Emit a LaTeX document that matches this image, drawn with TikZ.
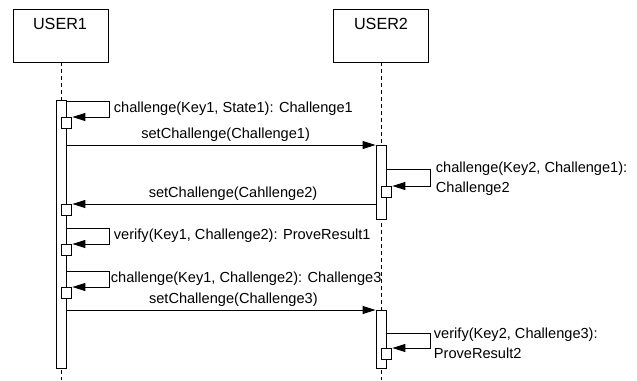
\documentclass[tikz,border=0pt]{standalone}
\usepackage{fontspec}
\setmainfont{Liberation Sans}
\usetikzlibrary{arrows.meta}

\begin{document}
\begin{tikzpicture}[x=0.02cm,y=-0.02cm,line width=0.5pt,
	objbox/.style={draw, minimum width=1.9cm, minimum height=1.06cm, inner sep=0pt},
	objname/.style={font=\fontsize{9.2}{11}\selectfont},
	actbar/.style={draw, fill=white, minimum width=0.2cm, inner sep=0pt, anchor=north},
	retbox/.style={draw, fill=white, minimum size=0.21cm, inner sep=0pt, anchor=north west},
	lifeline/.style={dash pattern=on 0.08cm off 0.06cm},
	msg/.style={-{Triangle[length=0.26cm,width=0.16cm]}},
	lbl/.style={font=\fontsize{8.3}{11.3}\selectfont, inner sep=2pt}]
	\useasboundingbox (0,0) rectangle (637,380);
	
	% Objects
	\node[objbox] (user1) at (61,35.5) {};
	\node[objbox] (user2) at (381,35.5) {};
	\node[objname] (user1name) at (60,24) {USER1};
	\node[objname] (user2name) at (381,24) {USER2};
	
	% Lifelines
	\coordinate (end1) at (61,380);
	\coordinate (end2) at (381,380);
	\draw[lifeline] (user1.south) -- (end1);
	\draw[lifeline] (user2.south) -- (end2);
	
	% Activation bars
	\node[actbar, minimum height=5.36cm] (bar1) at (61,100) {};
	\node[actbar, minimum height=1.48cm] (bar2) at (381,145) {};
	\node[actbar, minimum height=1.16cm] (bar3) at (381,310) {};
	
	% Return boxes
	\node[retbox] (ret1) at (61,117) {};
	\node[retbox] (ret2) at (61,204) {};
	\node[retbox] (ret3) at (61,244) {};
	\node[retbox] (ret4) at (61,287) {};
	\node[retbox] (ret5) at (381,186) {};
	\node[retbox] (ret6) at (381,348) {};
	
	% Self calls
	\coordinate (loop1) at (109,101);
	\coordinate (loop2) at (109,228);
	\coordinate (loop3) at (109,271);
	\coordinate (loop4) at (430,169);
	\coordinate (loop5) at (430,333);
	\draw[msg] (bar1.east |- loop1) -- (loop1) |- (ret1.north east);
	\draw[msg] (bar1.east |- loop2) -- (loop2) |- (ret3.north east);
	\draw[msg] (bar1.east |- loop3) -- (loop3) |- (ret4.north east);
	\draw[msg] (bar2.east |- loop4) -- (loop4) |- (ret5.north east);
	\draw[msg] (bar3.east |- loop5) -- (loop5) |- (ret6.north east);
	
	\node[lbl, anchor=west] (call1) at (110,109) {challenge(Key1, State1): Challenge1};
	\node[lbl, anchor=west] (call3) at (110,236) {verify(Key1, Challenge2): ProveResult1};
	\node[lbl, anchor=west] (call4) at (107,279) {challenge(Key1, Challenge2): Challenge3};
	\node[lbl, anchor=west, align=left] (call2) at (432,179) {challenge(Key2, Challenge1):\\Challenge2};
	\node[lbl, anchor=west, align=left] (call5) at (430,343) {verify(Key2, Challenge3):\\ProveResult2};
	
	% Messages
	\draw[msg] (bar1.east |- bar2.north) -- (bar2.north west)
		node[lbl, pos=0.515, above] (send1) {setChallenge(Challenge1)};
	\draw[msg] (bar2.west |- ret2.north) -- (ret2.north east)
		node[lbl, pos=0.47, above] (send2) {setChallenge(Cahllenge2)};
	\draw[msg] (bar1.east |- bar3.north) -- (bar3.north west)
		node[lbl, pos=0.54, above] (send3) {setChallenge(Challenge3)};
	
\end{tikzpicture}
\end{document}
